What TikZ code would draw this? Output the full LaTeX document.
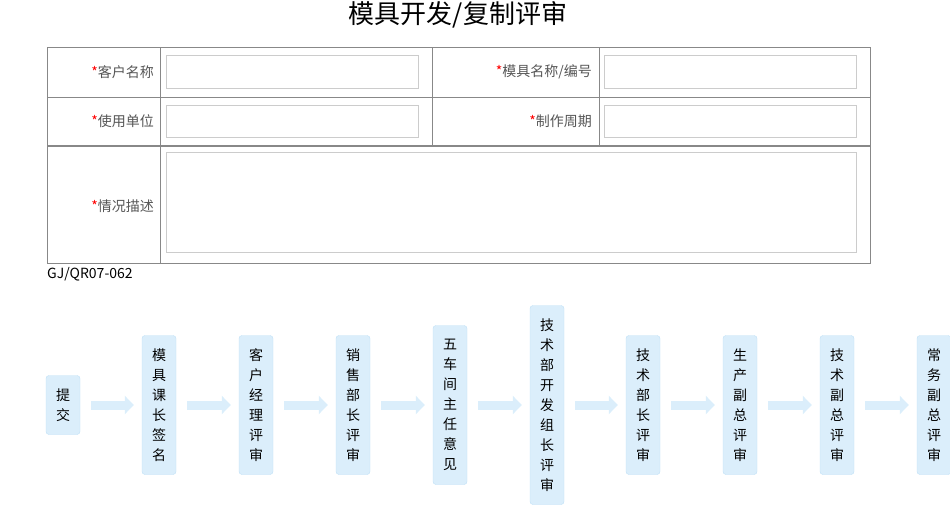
\documentclass[tikz,border=0pt]{standalone}
\usepackage{fontspec}
\setmainfont{Noto Sans CJK SC}
\usetikzlibrary{arrows.meta,positioning}
\definecolor{boxfill}{HTML}{DBEEFB}
\definecolor{boxline}{HTML}{BFE0F6}
\definecolor{gridline}{HTML}{888888}
\definecolor{inputline}{HTML}{CCCCCC}
\definecolor{labeltext}{HTML}{555555}
\tikzset{
  stepbox/.style={rectangle, rounded corners=3pt, draw=boxline, fill=boxfill, minimum width=34pt, inner sep=0pt, align=center, font=\fontsize{14}{20}\selectfont},
  fatarrow/.style={draw=boxfill, line width=9pt, -{Triangle[width=18pt,length=9pt]}, shorten <=11pt, shorten >=8pt},
  inputbox/.style={draw=inputline, line width=1pt},
  fieldlabel/.style={anchor=east, text=labeltext, font=\fontsize{14}{16}\selectfont, inner sep=0pt}
}
\newcommand{\req}{\textcolor{red}{*}}
\begin{document}
\begin{tikzpicture}[x=1pt, y=-1pt]
\useasboundingbox (0,0) rectangle (950,522);
% title
\node (title) at (458,15) {\fontsize{26}{28}\selectfont 模具开发/复制评审};
% form
\draw[gridline, line width=1pt] (47,47) rectangle (870,263);
\draw[gridline, line width=1pt] (47,97) -- (870,97);
\draw[gridline, line width=2pt] (47,146) -- (870,146);
\draw[gridline, line width=1pt] (160,47) -- (160,263);
\draw[gridline, line width=1pt] (432,47) -- (432,146) (599,47) -- (599,146);
\draw[inputbox] (166,55) rectangle (418,88) (604,55) rectangle (856,88);
\draw[inputbox] (166,105) rectangle (418,137) (604,105) rectangle (856,137);
\draw[inputbox] (166,152) rectangle (856,252);
\node[fieldlabel] (customer) at (154,72) {\req 客户名称};
\node[fieldlabel] (mould) at (592,72) {\req 模具名称/编号};
\node[fieldlabel] (user) at (154,121) {\req 使用单位};
\node[fieldlabel] (period) at (592,121) {\req 制作周期};
\node[fieldlabel] (desc) at (154,206) {\req 情况描述};
\node[anchor=west, inner sep=0pt, font=\fontsize{14}{16}\selectfont] (code) at (47,274) {GJ/QR07-062};
% flow
\node[stepbox, minimum height=59pt] (s1) at (63,405) {提\\交};
\node[stepbox, minimum height=139pt] (s2) at (159,405) {模\\具\\课\\长\\签\\名};
\node[stepbox, minimum height=139pt] (s3) at (256,405) {客\\户\\经\\理\\评\\审};
\node[stepbox, minimum height=139pt] (s4) at (353,405) {销\\售\\部\\长\\评\\审};
\node[stepbox, minimum height=159pt] (s5) at (450,405) {五\\车\\间\\主\\任\\意\\见};
\node[stepbox, minimum height=199pt] (s6) at (547,405) {技\\术\\部\\开\\发\\组\\长\\评\\审};
\node[stepbox, minimum height=139pt] (s7) at (643,405) {技\\术\\部\\长\\评\\审};
\node[stepbox, minimum height=139pt] (s8) at (740,405) {生\\产\\副\\总\\评\\审};
\node[stepbox, minimum height=139pt] (s9) at (837,405) {技\\术\\副\\总\\评\\审};
\node[stepbox, minimum height=139pt] (s10) at (934,405) {常\\务\\副\\总\\评\\审};
\foreach \a/\b in {s1/s2,s2/s3,s3/s4,s4/s5,s5/s6,s6/s7,s7/s8,s8/s9,s9/s10}
  \draw[fatarrow] (\a) -- (\b);
\end{tikzpicture}
\end{document}
